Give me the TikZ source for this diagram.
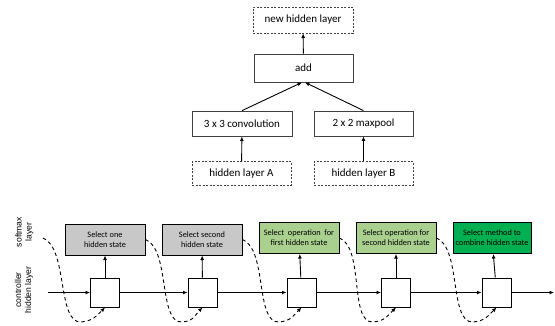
\documentclass[tikz,border=0pt]{standalone}
\usepackage{fontspec}
\setmainfont{Carlito}
\newfontfamily\labelfont{Liberation Sans}
\usetikzlibrary{arrows.meta}
\definecolor{selgray}{RGB}{200,200,200}
\definecolor{lightgrn}{RGB}{169,208,142}
\definecolor{darkgrn}{RGB}{0,176,80}
\tikzset{%
    tip/.style={-{Latex[length=4.5pt,width=4pt]}}
}

\begin{document}
\begin{tikzpicture}[
        x=1pt, y=-1pt,
        layer/.style={draw=black!75,line width=0.8pt,inner sep=0pt,font=\fontsize{11}{13}\selectfont},
        dlayer/.style={layer,dash pattern=on 2pt off 1.5pt},
        choice/.style={draw=black,line width=1pt,inner sep=0pt,minimum width=80pt,minimum height=31pt,
            align=center,font=\fontsize{8.3}{9.8}\selectfont},
        cell/.style={draw=black,line width=1pt,fill=white,minimum size=29pt,inner sep=0pt},
        edge/.style={line width=0.9pt,tip},
        dcurve/.style={line width=0.9pt,dash pattern=on 3.5pt off 3pt,tip},
        side/.style={rotate=90,align=center,font=\labelfont\fontsize{8.6}{10}\selectfont}
        ]
        \useasboundingbox (0,0) rectangle (555,325);

        % cell construction
        \node[dlayer,minimum width=100pt,minimum height=26pt] (newh) at (303,20) {new hidden layer};
        \node[layer,minimum width=99pt,minimum height=28pt] (add) at (303.5,68) {add};
        \node[layer,minimum width=100pt,minimum height=25pt] (conv) at (242,123.5) {3 x 3 convolution};
        \node[layer,minimum width=99pt,minimum height=25pt] (pool) at (363.5,123.5) {2 x 2 maxpool};
        \node[dlayer,minimum width=99pt,minimum height=23.5pt] (hA) at (241.5,173.5) {hidden layer A};
        \node[dlayer,minimum width=99pt,minimum height=23.5pt] (hB) at (363.5,173.5) {hidden layer B};

        \draw[edge] (hA) -- (conv);
        \draw[edge] (hB) -- (pool);
        \draw[edge] (conv.north) -- (add.264);
        \draw[edge] (pool.north) -- (add.276);
        \draw[edge] (add) -- (newh);

        % controller
        \node[side] (lsm) at (24.5,232) {softmax\\layer};
        \node[side] (lch) at (24,290) {controller\\hidden layer};

        \node[choice,fill=selgray] (b1) at (105,239.5) {Select one\\hidden state};
        \node[choice,fill=selgray] (b2) at (202,239.5) {Select second\\hidden state};
        \node[choice,fill=lightgrn] (b3) at (299,238) {Select\ \ operation\ \ for\\first hidden state};
        \node[choice,fill=lightgrn] (b4) at (396,238) {Select operation for\\second hidden state};
        \node[choice,fill=darkgrn,minimum width=78pt] (b5) at (492,238) {Select method to\\combine hidden state};

        \node[cell] (q1) at (105,292.5) {};
        \node[cell] (q2) at (202.5,292.5) {};
        \node[cell] (q3) at (301.5,292.5) {};
        \node[cell] (q4) at (396,292.5) {};
        \node[cell] (q5) at (496.5,292.5) {};

        \coordinate (in) at (48,292.5);
        \coordinate (out) at (554,292.5);
        \coordinate (s0) at (43,238);

        \draw[edge] (in) -- (q1);
        \draw[edge] (q1) -- (q2);
        \draw[edge] (q2) -- (q3);
        \draw[edge] (q3) -- (q4);
        \draw[edge] (q4) -- (q5);
        \draw[edge] (q5) -- (out);

        \draw[edge] (q1) -- (b1);
        \draw[edge] (q2) -- (b2);
        \draw[edge] (q3) -- (b3);
        \draw[edge] (q4) -- (b4);
        \draw[edge] (q5) -- (b5);

        \coordinate (d1) at (81,322);
        \coordinate (d2) at (182,322);
        \coordinate (d3) at (279,322);
        \coordinate (d4) at (373,322);
        \coordinate (d5) at (473,322);

        \draw[dcurve] (s0) .. controls +(25,10) and +(-24,1) .. (d1) .. controls +(12,-1) and +(-8,8) .. (q1.south);
        \draw[dcurve] (b1.east) .. controls +(25,10) and +(-24,1) .. (d2) .. controls +(12,-1) and +(-8,8) .. (q2.south);
        \draw[dcurve] (b2.east) .. controls +(25,10) and +(-24,1) .. (d3) .. controls +(12,-1) and +(-8,8) .. (q3.south);
        \draw[dcurve] (b3.east) .. controls +(25,10) and +(-24,1) .. (d4) .. controls +(12,-1) and +(-8,8) .. (q4.south);
        \draw[dcurve] (b4.east) .. controls +(25,10) and +(-24,1) .. (d5) .. controls +(12,-1) and +(-8,8) .. (q5.south);
    \end{tikzpicture}
\end{document}
